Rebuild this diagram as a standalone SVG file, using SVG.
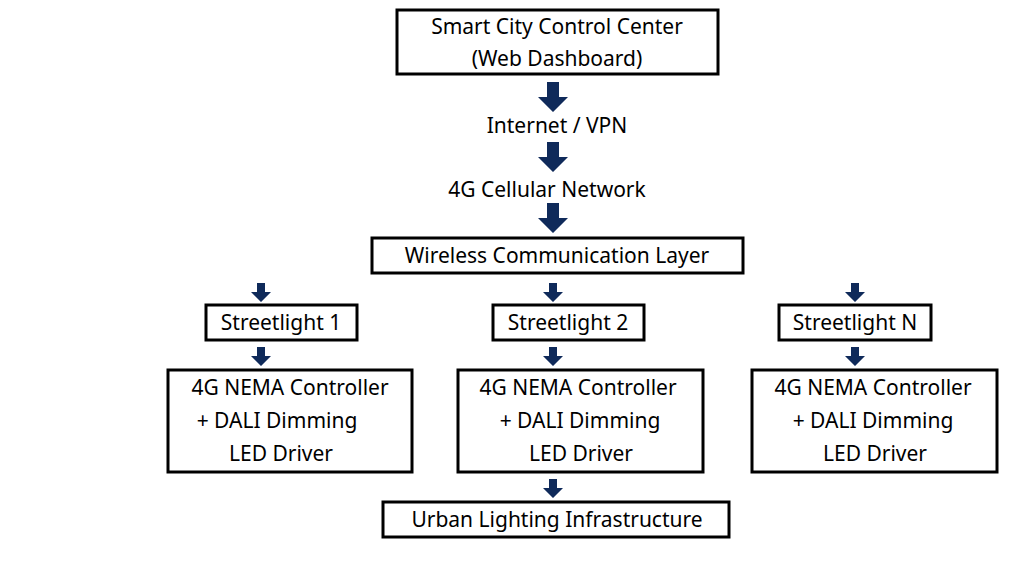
<svg xmlns="http://www.w3.org/2000/svg" width="1024" height="576" viewBox="0 0 1024 576">
<style>
.b{fill:#fff;stroke:#000;stroke-width:3}
text{font-family:"Noto Sans","Liberation Sans",sans-serif;font-size:21px;fill:#000;text-anchor:middle}
.a{fill:#0f2a5a}
</style>
<defs>
<path id="big" class="a" d="M-6,0H6V15H15L0,30L-15,15H-6Z"/>
<path id="sm" class="a" d="M-4,0H4V9H10L0,19L-10,9H-4Z"/>
</defs>
<rect width="1024" height="576" fill="#fff"/>
<g id="connectors">
<use href="#big" x="553" y="82"/>
<use href="#big" x="553" y="142"/>
<use href="#big" x="553" y="203"/>
<use href="#sm" x="261" y="283"/>
<use href="#sm" x="553" y="283"/>
<use href="#sm" x="855" y="283"/>
<use href="#sm" x="261" y="347"/>
<use href="#sm" x="553" y="347"/>
<use href="#sm" x="855" y="347"/>
<use href="#sm" x="553" y="479"/>
</g>
<g id="control"><rect class="b" x="397" y="10" width="321" height="64"/><text x="557" y="34">Smart City Control Center</text><text x="557" y="66">(Web Dashboard)</text></g>
<g id="internet"><text x="557" y="133">Internet / VPN</text></g>
<g id="cellular"><text x="547" y="197">4G Cellular Network</text></g>
<g id="wireless"><rect class="b" x="372" y="238" width="371" height="35"/><text x="557" y="263">Wireless Communication Layer</text></g>
<g id="sl1"><rect class="b" x="206" y="305" width="151" height="35"/><text x="281" y="330">Streetlight 1</text></g>
<g id="sl2"><rect class="b" x="493" y="305" width="151" height="35"/><text x="568" y="330">Streetlight 2</text></g>
<g id="slN"><rect class="b" x="779" y="305" width="152" height="35"/><text x="855" y="330">Streetlight N</text></g>
<g id="c1"><rect class="b" x="168" y="370" width="244" height="102"/><text x="290" y="395">4G NEMA Controller</text><text x="277" y="428">+ DALI Dimming</text><text x="281" y="461">LED Driver</text></g>
<g id="c2"><rect class="b" x="458" y="370" width="245" height="102"/><text x="578" y="395">4G NEMA Controller</text><text x="580" y="428">+ DALI Dimming</text><text x="581" y="461">LED Driver</text></g>
<g id="cN"><rect class="b" x="752" y="370" width="245" height="102"/><text x="873" y="395">4G NEMA Controller</text><text x="873" y="428">+ DALI Dimming</text><text x="875" y="461">LED Driver</text></g>
<g id="urban"><rect class="b" x="383" y="502" width="346" height="35"/><text x="557" y="527">Urban Lighting Infrastructure</text></g>
</svg>
